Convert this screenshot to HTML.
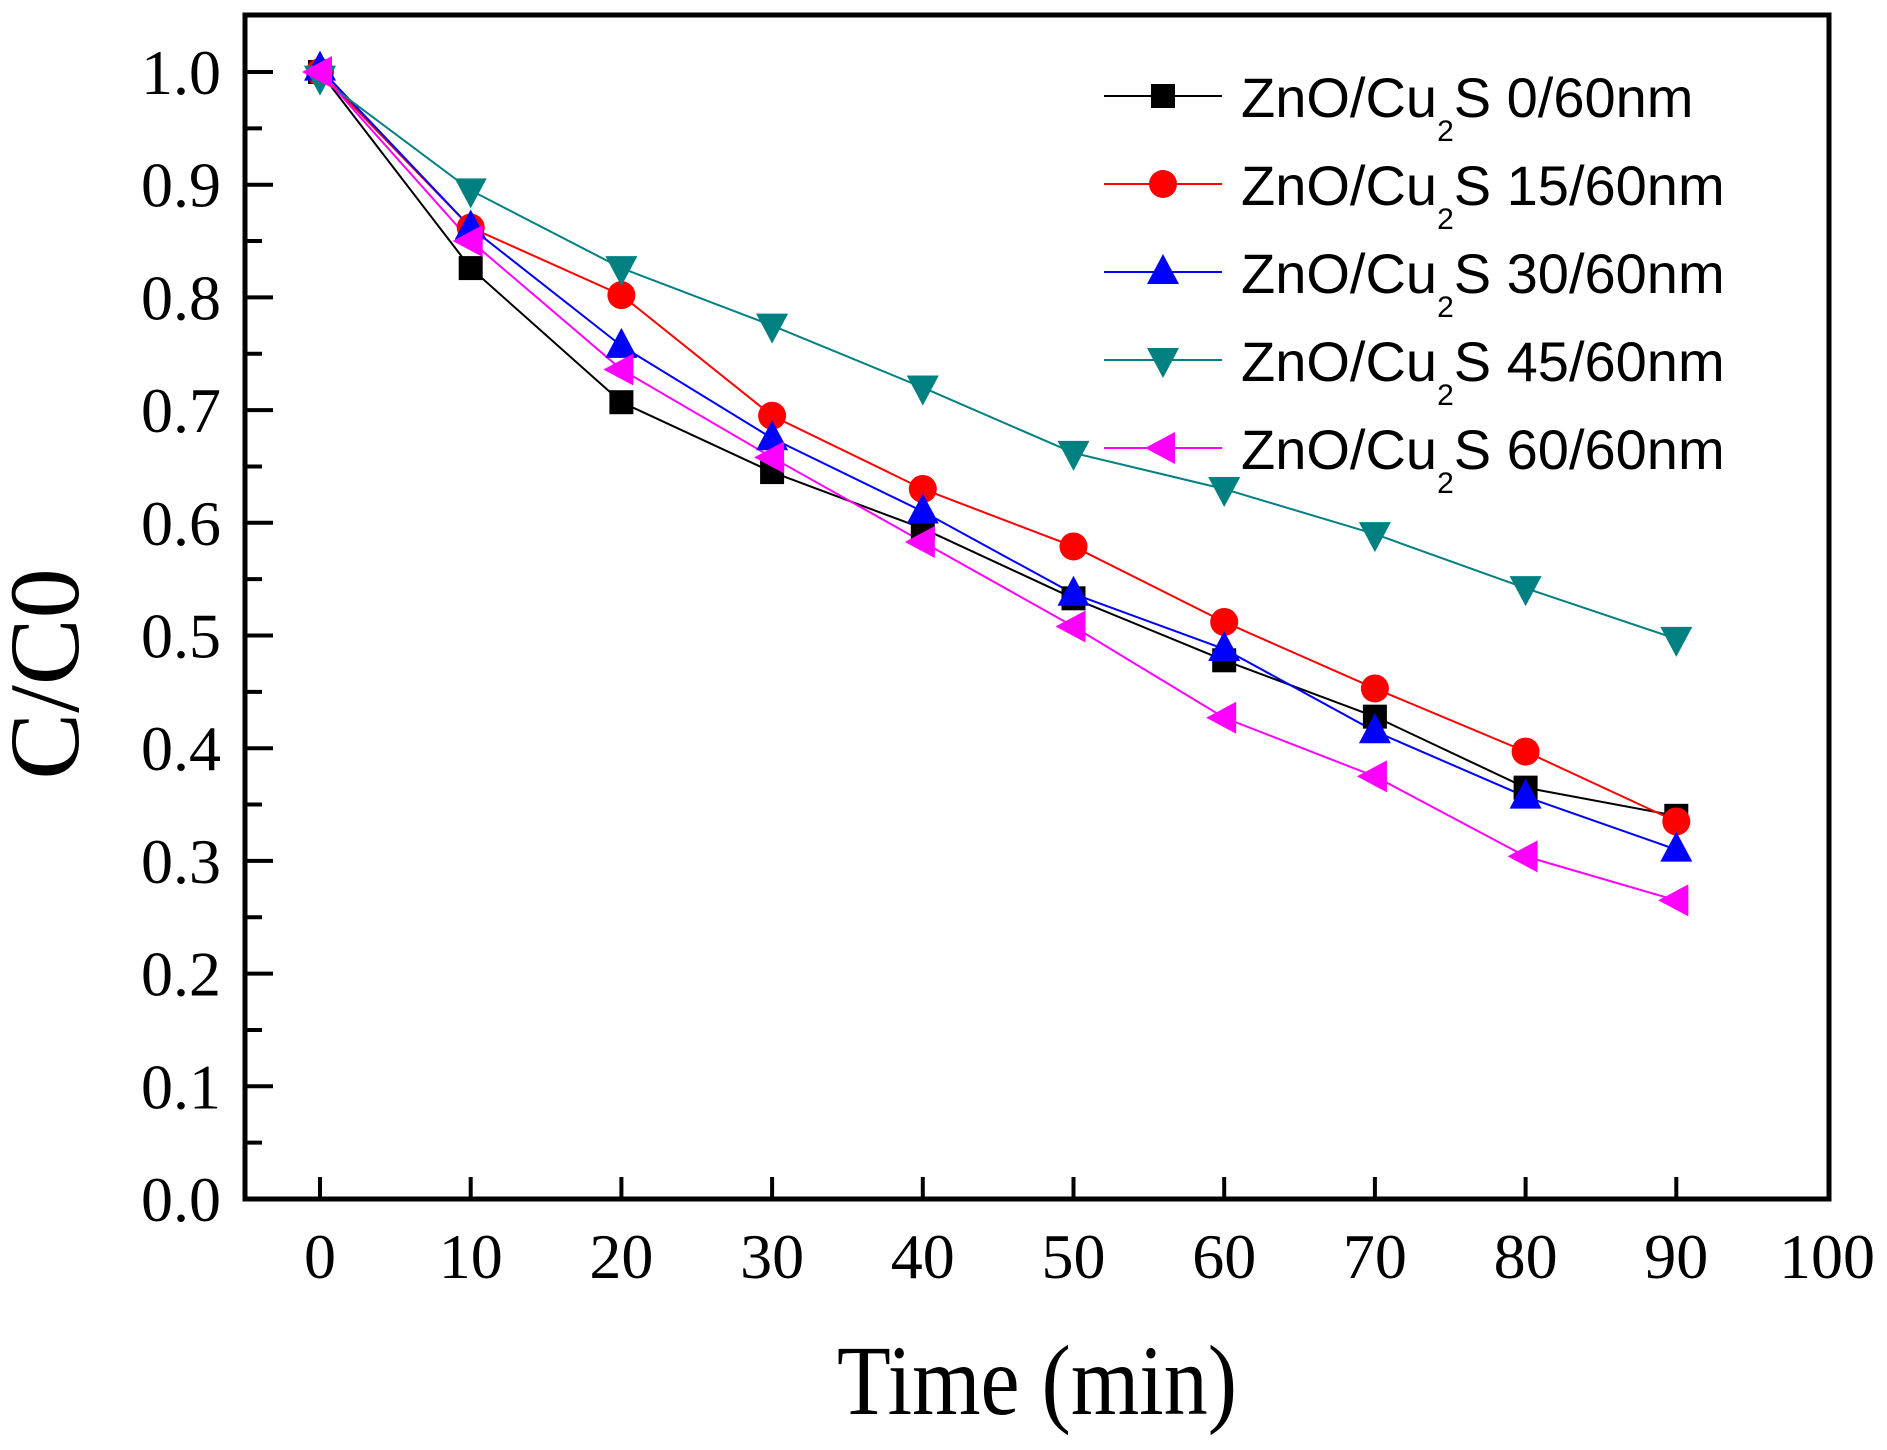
<!DOCTYPE html>
<html><head><meta charset="utf-8"><style>
html,body{margin:0;padding:0;background:#fff;}
svg{display:block;}
</style></head><body>
<svg id="s" width="1887" height="1450" xmlns="http://www.w3.org/2000/svg">
<rect width="1887" height="1450" fill="#fff"/>
<g id="plot"></g>
<rect x="245" y="15" width="1584" height="1184" fill="none" stroke="#000" stroke-width="5"/>
<g id="axes"></g>
<text x="1037" y="1414" font-family="Liberation Serif, serif" font-size="100" text-anchor="middle" textLength="400" lengthAdjust="spacingAndGlyphs">Time (min)</text>
<text transform="translate(78,674) rotate(-90)" font-family="Liberation Serif, serif" font-size="100" text-anchor="middle">C/C0</text>
<g id="legend" font-family="Liberation Sans, sans-serif" font-size="56"></g>
</svg>
<script>
const NS="http://www.w3.org/2000/svg";
const X=v=>320+15.07*v, Y=v=>1199-1127*v;
function el(p,t,a,txt){const e=document.createElementNS(NS,t);for(const k in a)e.setAttribute(k,a[k]);if(txt!==undefined)e.textContent=txt;p.appendChild(e);return e;}
const ax=document.getElementById('axes');
for(let i=0;i<=20;i++){const v=i*0.05,y=Y(v),maj=i%2==0;
 el(ax,'line',{x1:245,x2:245+(maj?28:17),y1:y,y2:y,stroke:'#000','stroke-width':4});
 if(maj) el(ax,'text',{x:221,y:y+22,'font-family':'Liberation Serif, serif','font-size':64,'text-anchor':'end'},(v).toFixed(1));}
for(let i=0;i<=9;i++){const x=X(i*10);el(ax,'line',{x1:x,x2:x,y1:1199,y2:1177,stroke:'#000','stroke-width':4});}
for(let i=0;i<=10;i++){el(ax,'text',{x:X(i*10),y:1278,'font-family':'Liberation Serif, serif','font-size':64,'text-anchor':'middle'},String(i*10));}
const series=[
 {c:'#000',m:'sq',d:[1.0,0.826,0.707,0.645,0.595,0.533,0.478,0.428,0.365,0.340],n:'0/60nm'},
 {c:'#ff0000',m:'ci',d:[1.0,0.862,0.802,0.695,0.630,0.579,0.512,0.453,0.397,0.335],n:'15/60nm'},
 {c:'#0000ff',m:'up',d:[1.003,0.862,0.757,0.675,0.610,0.537,0.488,0.415,0.357,0.310],n:'30/60nm'},
 {c:'#008080',m:'dn',d:[0.995,0.895,0.826,0.775,0.720,0.662,0.630,0.590,0.542,0.497],n:'45/60nm'},
 {c:'#ff00ff',m:'lt',d:[1.0,0.850,0.736,0.658,0.583,0.508,0.427,0.375,0.304,0.265],n:'60/60nm'}];
const pl=document.getElementById('plot');
function mark(g,m,x,y,c){
 if(m=='sq')el(g,'rect',{x:x-12,y:y-12,width:24,height:24,fill:c});
 else if(m=='ci')el(g,'circle',{cx:x,cy:y,r:14,fill:c});
 else if(m=='up')el(g,'polygon',{points:`${x},${y-18} ${x-16},${y+12} ${x+16},${y+12}`,fill:c});
 else if(m=='dn')el(g,'polygon',{points:`${x},${y+18} ${x-16},${y-12} ${x+16},${y-12}`,fill:c});
 else el(g,'polygon',{points:`${x-18},${y} ${x+12},${y-16} ${x+12},${y+16}`,fill:c});}
series.forEach(s=>{el(pl,'polyline',{points:s.d.map((v,i)=>X(i*10)+','+Y(v)).join(' '),fill:'none',stroke:s.c,'stroke-width':2});});
series.forEach(s=>{s.d.forEach((v,i)=>mark(pl,s.m,X(i*10),Y(v),s.c));});
const lg=document.getElementById('legend');
series.forEach((s,k)=>{const y=96+88*k;
 el(lg,'line',{x1:1104,x2:1222,y1:y,y2:y,stroke:s.c,'stroke-width':2});
 mark(lg,s.m,1163,y,s.c);
 const t=el(lg,'text',{x:1241,y:y+21});
 t.appendChild(document.createTextNode('ZnO/Cu'));
 el(t,'tspan',{'font-size':30,dy:24},'2');
 el(t,'tspan',{dy:-24},'S '+s.n);
});
</script>
</body></html>
